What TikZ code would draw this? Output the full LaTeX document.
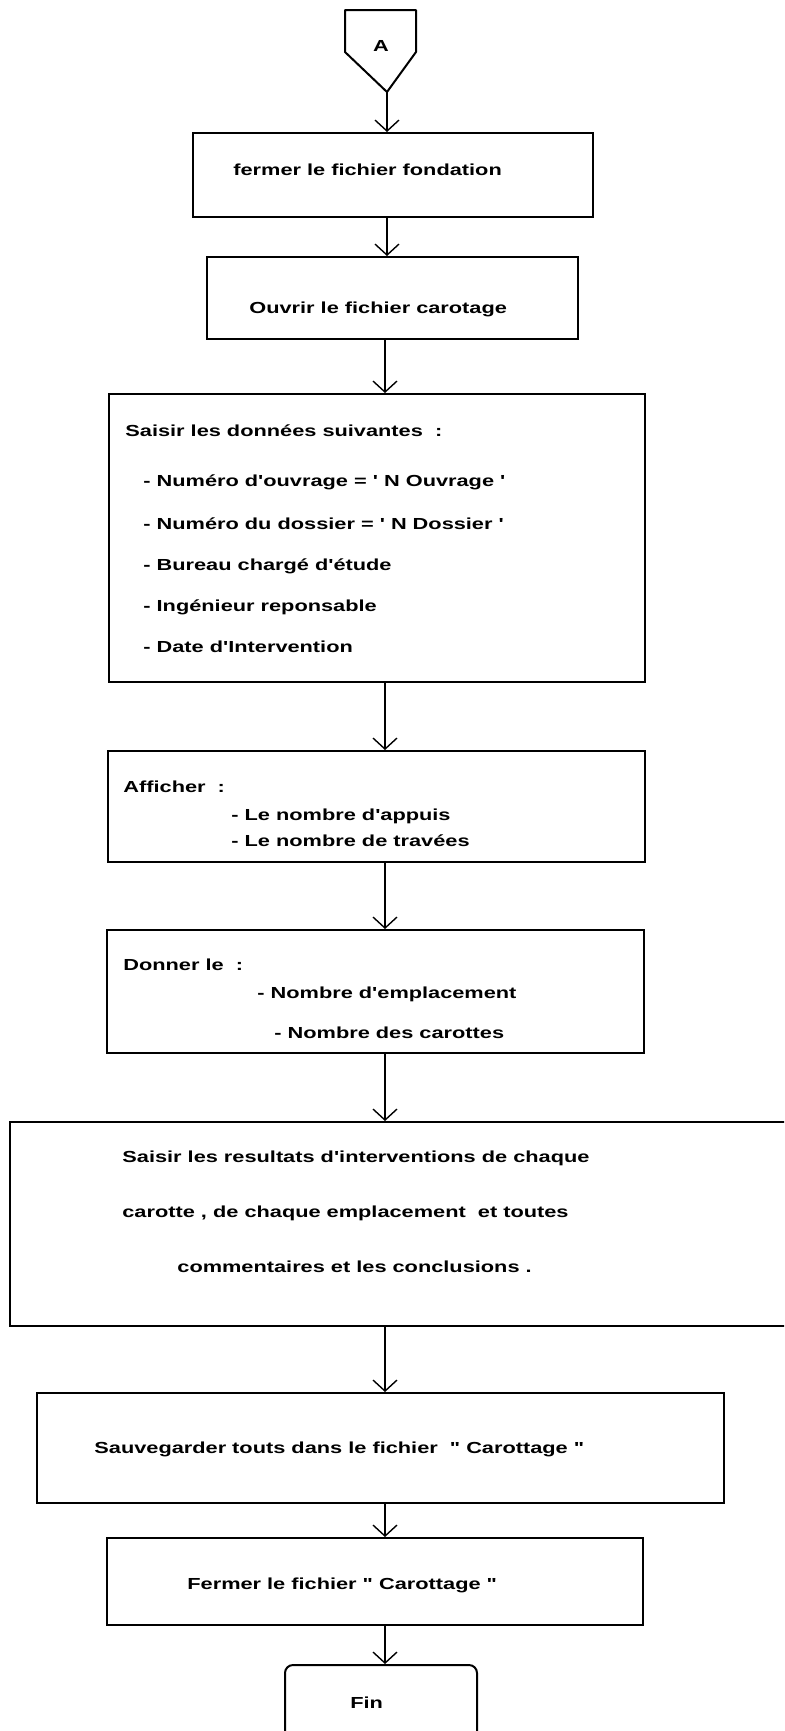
\documentclass[tikz,border=0pt]{standalone}
\usepackage{fontspec}
\setmainfont{Liberation Sans}[FakeStretch=1.36, Ligatures=TeXOff]
\usetikzlibrary{arrows.meta}

\begin{document}
\begin{tikzpicture}[x=0.5pt,y=-0.5pt,
  box/.style={draw, line width=1pt, inner sep=0pt, rectangle},
  lbl/.style={anchor=mid west, inner sep=0pt, font=\bfseries\fontsize{8}{10}\selectfont},
  flow/.style={line width=0.7pt, -{Straight Barb[length=5.5pt,width=12pt,line width=0.7pt]}}
]
% page frame
\useasboundingbox (0,0) rectangle (784,1731);
\fill[white] (0,0) rectangle (784,1731);
\clip (0,0) rectangle (784,1731);

% off-page connector "A"
\draw[line width=1pt, line join=round] (345,10) -- (416,10) -- (416,52) -- (387,92) -- (345,52) -- cycle;
\node[lbl, anchor=center] (A) at (381,46) {A};
\coordinate (Atip) at (387,92);
\coordinate (spine) at (385,0);

% process boxes
\node[box, minimum width=200pt,   minimum height=42pt]  (b1) at (393,175) {};
\node[box, minimum width=185.5pt, minimum height=41pt]  (b2) at (392.5,298) {};
\node[box, minimum width=268pt,   minimum height=144pt] (b3) at (377,538) {};
\node[box, minimum width=268.5pt, minimum height=55.5pt] (b4) at (376.5,806.5) {};
\node[box, minimum width=268.5pt, minimum height=61.5pt] (b5) at (375.5,991.5) {};
\node[box, minimum width=395pt,   minimum height=102pt] (b6) at (405,1224) {};
\node[box, minimum width=343.5pt, minimum height=55pt]  (b7) at (380.5,1448) {};
\node[box, minimum width=268pt,   minimum height=43.5pt] (b8) at (375,1581.5) {};
\node[box, rounded corners=4pt, minimum width=96pt, minimum height=40pt] (fin) at (381,1705) {};

% texts
\node[lbl] (t1) at (233,170) {fermer le fichier fondation};
\node[lbl] (t2) at (249,308) {Ouvrir le fichier carotage};

\node[lbl] (t3) at (125,431) {Saisir les données suivantes~~:};
\node[lbl] (t3a) at (143,481) {- Numéro d'ouvrage = ' N Ouvrage '};
\node[lbl] (t3b) at (143,524) {- Numéro du dossier = ' N Dossier '};
\node[lbl] (t3c) at (143,565) {- Bureau chargé d'étude};
\node[lbl] (t3d) at (143,606) {- Ingénieur reponsable};
\node[lbl] (t3e) at (143,647) {- Date d'Intervention};

\node[lbl] (t4) at (123,787) {Afficher~~:};
\node[lbl] (t4a) at (231,815) {- Le nombre d'appuis};
\node[lbl] (t4b) at (231,841) {- Le nombre de travées};

\node[lbl] (t5) at (123,965) {Donner le~~:};
\node[lbl] (t5a) at (257,993) {- Nombre d'emplacement};
\node[lbl] (t5b) at (274,1033) {- Nombre des carottes};

\node[lbl] (t6a) at (122,1157) {Saisir les resultats d'interventions de chaque};
\node[lbl] (t6b) at (122,1212) {carotte , de chaque emplacement~~et toutes};
\node[lbl] (t6c) at (177,1267) {commentaires et les conclusions .};

\node[lbl] (t7) at (94,1448) {Sauvegarder touts dans le fichier~~" Carottage "};
\node[lbl] (t8) at (187,1584) {Fermer le fichier " Carottage "};
\node[lbl] (t9) at (350,1703) {Fin};

% flow connectors
\draw[flow] (Atip) -- (b1.north -| Atip);
\draw[flow] (b1.south -| Atip) -- (b2.north -| Atip);
\draw[flow] (b2.south -| spine) -- (b3.north -| spine);
\draw[flow] (b3.south -| spine) -- (b4.north -| spine);
\draw[flow] (b4.south -| spine) -- (b5.north -| spine);
\draw[flow] (b5.south -| spine) -- (b6.north -| spine);
\draw[flow] (b6.south -| spine) -- (b7.north -| spine);
\draw[flow] (b7.south -| spine) -- (b8.north -| spine);
\draw[flow] (b8.south -| spine) -- (fin.north -| spine);
\end{tikzpicture}
\end{document}
